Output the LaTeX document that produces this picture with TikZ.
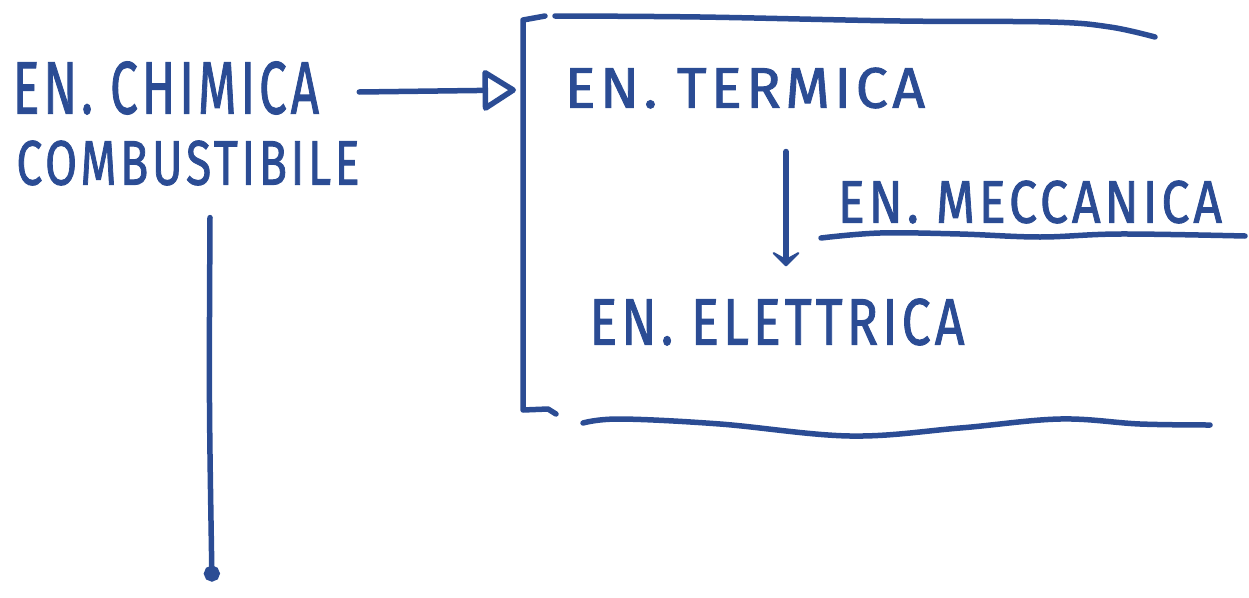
\documentclass[tikz,border=0pt]{standalone}
\usepackage{fontspec}
\setsansfont{Fira Sans}
\usepackage{graphicx}
\usetikzlibrary{arrows.meta,calc}
\definecolor{ink}{RGB}{43,76,148}
\newcommand\hwtext[3]{\resizebox{#1pt}{#2pt}{\sffamily\addfontfeature{LetterSpace=8,FakeBold=1.6}#3}}
\tikzset{
  pen/.style={draw=ink, line width=5.5pt, line cap=round, line join=round},
  lbl/.style={inner sep=0pt, text=ink},
}
\begin{document}
\begin{tikzpicture}[x=1pt,y=-1pt]
\useasboundingbox (0,0) rectangle (1249,597);
% labels
\node[lbl] (chim) at (166,88) {\hwtext{306}{52}{EN. CHIMICA}};
\node[lbl] (comb) at (188,163) {\hwtext{343}{44}{COMBUSTIBILE}};
\node[lbl] (term) at (745,88) {\hwtext{360}{40}{EN. TERMICA}};
\node[lbl] (mecc) at (1030,202) {\hwtext{384}{42}{EN. MECCANICA}};
\node[lbl] (elet) at (777,322) {\hwtext{375}{46}{EN. ELETTRICA}};
% bracket
\coordinate (bt) at (523,20);
\coordinate (bb) at (523,410);
\coordinate (in) at (516,90);
\draw[pen] (545,16) -- (bt) -- (bb) -- (548,409) -- (556,414);
\draw[pen] plot[smooth, tension=0.6] coordinates {(555,16) (700,17) (900,21) (1050,22) (1110,27) (1155,37)};
\draw[pen] plot[smooth, tension=0.6] coordinates {(583,423) (620,419) (720,424) (850,436) (960,428) (1060,419) (1140,424) (1210,425)};
% underline of meccanica
\draw[pen] plot[smooth, tension=0.6] coordinates {(821,238) (880,233) (960,234) (1040,237) (1120,234) (1245,236)};
% connectors
\draw[pen, -{Triangle[open, round, length=36pt, width=44pt]}]
  ($(chim.east)+(40,4)$) -- (in);
\draw[pen, -{Stealth[round, length=18pt, width=36pt, inset=10pt]}]
  ($(term.south)+(41,43)$) -- ($(elet.north)+(9,-32)$);
\draw[pen, -{Circle[length=16pt]}]
  ($(comb.south)+(22,32)$) .. controls (209,400) .. ($(comb.south)+(24,396)$);
\end{tikzpicture}
\end{document}
